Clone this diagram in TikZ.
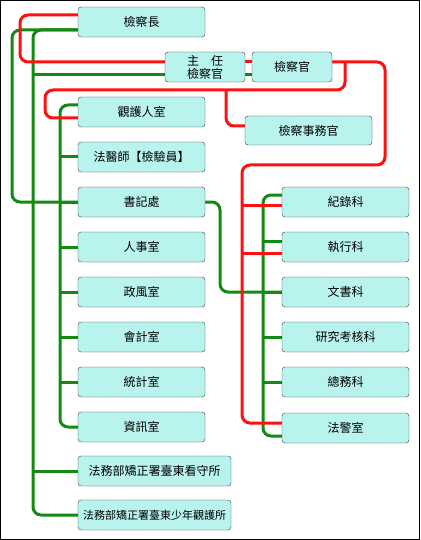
\documentclass[tikz,border=0pt]{standalone}
\usepackage{fontspec}
\setmainfont{Noto Sans CJK TC}
\usepackage{xcolor}
\usepackage{tikz}
\usetikzlibrary{backgrounds}
\definecolor{boxcyan}{HTML}{B8F3EE}
\definecolor{boxedge}{HTML}{3A3A3A}
\definecolor{linered}{HTML}{FF1010}
\definecolor{linegreen}{HTML}{148A14}

\begin{document}
\begin{tikzpicture}[x=1pt,y=-1pt,
    unit/.style={draw=boxedge,fill=boxcyan,rounded corners=3pt,minimum width=127pt,minimum height=30pt,inner sep=1pt,font=\fontsize{12}{13}\selectfont},
    redline/.style={draw=linered,line width=3pt,rounded corners=8pt},
    greenline/.style={draw=linegreen,line width=3pt,rounded corners=8pt}]
  \useasboundingbox (0,0) rectangle (420,540);
  \draw[line width=1pt] (0.5,0.5) rectangle (419.5,539.5);

  % Einheiten
  \node[unit] (chief) at (141.5,22) {檢察長};
  \node[unit,minimum width=80pt,align=center] (zhuren) at (205,67) {主\quad 任\\檢察官};
  \node[unit,minimum width=80pt] (prosecutor) at (292,67) {檢察官};
  \node[unit] (probation) at (141.5,112) {觀護人室};
  \node[unit,minimum height=29pt] (affairs) at (308.5,130.5) {檢察事務官};
  \node[unit] (forensic) at (141.5,157) {法醫師【檢驗員】};
  \node[unit] (clerk) at (141.5,202) {書記處};
  \node[unit] (personnel) at (141.5,247) {人事室};
  \node[unit] (ethics) at (141.5,292) {政風室};
  \node[unit] (accounting) at (141.5,337) {會計室};
  \node[unit] (statistics) at (141.5,382) {統計室};
  \node[unit] (infosec) at (141.5,427) {資訊室};
  \node[unit,minimum width=153pt] (detention) at (154.5,471) {法務部矯正署臺東看守所};
  \node[unit,minimum width=153pt,font=\fontsize{11}{13}\selectfont] (juvenile) at (154.5,515) {法務部矯正署臺東少年觀護所};
  \node[unit] (records) at (345.5,202) {紀錄科};
  \node[unit] (execution) at (345.5,247) {執行科};
  \node[unit] (documents) at (345.5,292) {文書科};
  \node[unit] (research) at (345.5,337) {研究考核科};
  \node[unit] (general) at (345.5,382) {總務科};
  \node[unit] (police) at (345.5,428) {法警室};

  % Stammlinien
  \coordinate (gouter) at (12,0);
  \coordinate (gleft) at (33,0);
  \coordinate (gmid) at (60,0);
  \coordinate (gright) at (263,0);
  \coordinate (rright) at (242,0);

  \begin{scope}[on background layer]
  % gruen
  \draw[greenline] ([yshift=-8pt]chief.west) -| (gouter |- clerk.west) -- (clerk.west);
  \draw[greenline] ([yshift=-8pt]chief.west) -| (gleft |- juvenile.west) -- (juvenile.west);
  \draw[greenline] (gleft |- detention.west) -- (detention.west);
  \draw[greenline] (gleft |- 0,75) -- ([yshift=-8pt]zhuren.west);
  \draw[greenline] ([yshift=-8pt]zhuren.east) -- ([yshift=-8pt]prosecutor.west);
  \draw[greenline] ([yshift=7pt]probation.west) -| (gmid |- infosec.west) -- (infosec.west);
  \foreach \n in {forensic,clerk,personnel,ethics,accounting,statistics}
    \draw[greenline] (gmid |- \n.west) -- (\n.west);
  \draw[greenline] (clerk.east) -| (220,292) -- (documents.west);
  \draw[greenline] ([yshift=7pt]records.west) -| (gright |- 0,436) -- ([yshift=-8pt]police.west);
  \draw[greenline] (gright |- 0,241) -- ([yshift=6pt]execution.west);
  \foreach \n in {documents,research,general}
    \draw[greenline] (gright |- \n.west) -- (\n.west);

  % rot
  \draw[redline] ([yshift=7pt]chief.west) -| (20,62) -- ([yshift=5pt]zhuren.west);
  \draw[redline] ([yshift=5pt]zhuren.east) -- ([yshift=5pt]prosecutor.west);
  \draw[redline] ([yshift=5pt]prosecutor.east) -| (385,165) -| (rright |- 0,423) -- ([yshift=5pt]police.west);
  \draw[redline] (rright |- 0,205) -- ([yshift=-3pt]records.west);
  \draw[redline] (rright |- 0,253) -- ([yshift=-6pt]execution.west);
  \draw[redline] (345,62) -- (345,90) -| (45,118) -- ([yshift=-6pt]probation.west);
  \draw[redline] (226,90) |- ([yshift=4.5pt]affairs.west);
  \end{scope}
\end{tikzpicture}
\end{document}
